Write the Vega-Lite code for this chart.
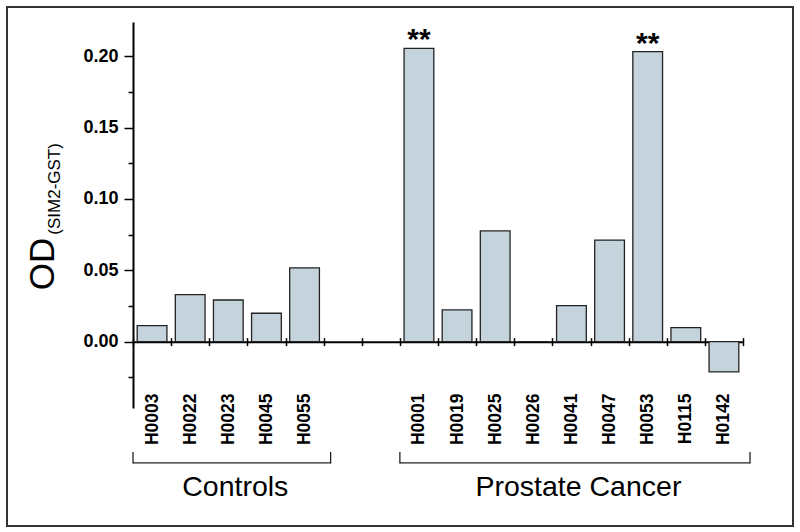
{
  "$schema": "https://vega.github.io/schema/vega-lite/v6.json",
  "width": 786,
  "height": 519,
  "autosize": {"type": "none"},
  "padding": {"left": 7, "top": 7, "right": 7, "bottom": 6},
  "background": "white",
  "config": {"font": "Liberation Sans", "view": {"stroke": "#333", "strokeWidth": 2}},
  "datasets": {
    "samples": [
      {"sample": "H0003", "group": "Controls", "od": 0.0112, "sig": ""},
      {"sample": "H0022", "group": "Controls", "od": 0.033, "sig": ""},
      {"sample": "H0023", "group": "Controls", "od": 0.0292, "sig": ""},
      {"sample": "H0045", "group": "Controls", "od": 0.0199, "sig": ""},
      {"sample": "H0055", "group": "Controls", "od": 0.0517, "sig": ""},
      {"sample": "H0001", "group": "Prostate Cancer", "od": 0.2055, "sig": "**"},
      {"sample": "H0019", "group": "Prostate Cancer", "od": 0.0222, "sig": ""},
      {"sample": "H0025", "group": "Prostate Cancer", "od": 0.0776, "sig": ""},
      {"sample": "H0026", "group": "Prostate Cancer", "od": 0.0, "sig": ""},
      {"sample": "H0041", "group": "Prostate Cancer", "od": 0.0252, "sig": ""},
      {"sample": "H0047", "group": "Prostate Cancer", "od": 0.0712, "sig": ""},
      {"sample": "H0053", "group": "Prostate Cancer", "od": 0.2032, "sig": "**"},
      {"sample": "H0115", "group": "Prostate Cancer", "od": 0.0098, "sig": ""},
      {"sample": "H0142", "group": "Prostate Cancer", "od": -0.0212, "sig": ""}
    ],
    "groups": [
      {"group": "Controls", "first": "H0003", "last": "H0055", "mid": "H0023"},
      {"group": "Prostate Cancer", "first": "H0001", "last": "H0142", "mid": "H0041"}
    ]
  },
  "resolve": {"axis": {"x": "independent", "y": "independent"}},
  "layer": [
    {
      "data": {"name": "samples"},
      "mark": {"type": "bar", "fill": "#c5d4dc", "stroke": "#222", "strokeWidth": 1.3, "width": {"band": 0.78}},
      "encoding": {
        "x": {
          "field": "sample", "type": "nominal",
          "scale": {"domain": ["H0003","H0022","H0023","H0045","H0055"," ","  ","H0001","H0019","H0025","H0026","H0041","H0047","H0053","H0115","H0142"], "range": [126, 736], "paddingInner": 0, "paddingOuter": 0},
          "axis": {"orient": "bottom", "offset": -184.36, "domain": true, "domainColor": "#000", "domainWidth": 2, "ticks": true, "tickBand": "extent", "tickSize": -4, "tickColor": "#000", "tickWidth": 1.5, "labels": false, "title": null, "grid": false}
        },
        "y": {
          "field": "od", "type": "quantitative",
          "scale": {"domain": [-0.0465, 0.224], "range": [401, 15], "nice": false, "zero": false},
          "axis": {
            "orient": "left", "offset": -126, "grid": false,
            "values": [-0.025, 0, 0.025, 0.05, 0.075, 0.1, 0.125, 0.15, 0.175, 0.2],
            "domain": true, "domainColor": "#000", "domainWidth": 2,
            "tickColor": "#000", "tickWidth": 1.5,
            "tickSize": {"condition": {"test": "indexof([-0.025, 0.025, 0.075, 0.125, 0.175], datum.value) >= 0", "value": 5}, "value": 9},
            "labelExpr": "indexof([-0.025, 0.025, 0.075, 0.125, 0.175], datum.value) >= 0 ? '' : format(datum.value, '.2f')",
            "labelFontSize": 18, "labelFontWeight": "bold", "labelColor": "#000", "labelPadding": 6,
            "title": "OD", "titleFontSize": 35, "titleFontWeight": "normal", "titleColor": "#000",
            "titleX": -80, "titleY": 256.5, "titleAngle": 270, "titleAlign": "center", "titleBaseline": "alphabetic"
          }
        }
      }
    },
    {
      "data": {"name": "samples"},
      "mark": {"type": "text", "fontSize": 30, "fontWeight": "bold", "baseline": "alphabetic", "align": "center", "dy": 1, "color": "#000"},
      "encoding": {
        "x": {
          "field": "sample", "type": "nominal",
          "scale": {"domain": ["H0003","H0022","H0023","H0045","H0055"," ","  ","H0001","H0019","H0025","H0026","H0041","H0047","H0053","H0115","H0142"], "range": [126, 736], "paddingInner": 0, "paddingOuter": 0},
          "axis": {"orient": "bottom", "offset": -184.36, "domain": false, "ticks": true, "tickBand": "extent", "tickSize": 4, "tickColor": "#000", "tickWidth": 1.5, "labelAngle": -90, "labelFontSize": 17.5, "labelFontWeight": "bold", "labelColor": "#000", "labelPadding": 47.4, "title": null, "grid": false}
        },
        "y": {
          "field": "od", "type": "quantitative",
          "scale": {"domain": [-0.0465, 0.224], "range": [401, 15], "nice": false, "zero": false},
          "axis": {"orient": "left", "offset": -126, "domain": false, "ticks": false, "labels": false, "grid": false,
            "title": "(SIM2-GST)", "titleFontSize": 17, "titleFontWeight": "normal", "titleColor": "#000",
            "titleX": -73.3, "titleY": 181.4, "titleAngle": 270, "titleAlign": "center", "titleBaseline": "alphabetic"}
        },
        "text": {"field": "sig"}
      }
    },
    {
      "data": {"name": "groups"},
      "mark": {"type": "rule", "stroke": "#222", "strokeWidth": 1.3, "x2Offset": 7},
      "encoding": {
        "x": {
          "field": "first", "type": "nominal", "axis": null, "bandPosition": 0,
          "scale": {"domain": ["H0003","H0022","H0023","H0045","H0055"," ","  ","H0001","H0019","H0025","H0026","H0041","H0047","H0053","H0115","H0142"], "range": [126, 736], "paddingInner": 0, "paddingOuter": 0}
        },
        "x2": {"field": "last", "bandPosition": 1},
        "y": {"datum": -0.085, "type": "quantitative", "axis": null, "scale": {"domain": [-0.0465, 0.224], "range": [401, 15], "nice": false, "zero": false}}
      }
    },
    {
      "data": {"name": "groups"},
      "mark": {"type": "rule", "stroke": "#222", "strokeWidth": 1.3},
      "encoding": {
        "x": {
          "field": "first", "type": "nominal", "axis": null, "bandPosition": 0,
          "scale": {"domain": ["H0003","H0022","H0023","H0045","H0055"," ","  ","H0001","H0019","H0025","H0026","H0041","H0047","H0053","H0115","H0142"], "range": [126, 736], "paddingInner": 0, "paddingOuter": 0}
        },
        "y": {"datum": -0.0773, "type": "quantitative", "axis": null, "scale": {"domain": [-0.0465, 0.224], "range": [401, 15], "nice": false, "zero": false}},
        "y2": {"datum": -0.0854}
      }
    },
    {
      "data": {"name": "groups"},
      "mark": {"type": "rule", "stroke": "#222", "strokeWidth": 1.3, "xOffset": 7},
      "encoding": {
        "x": {
          "field": "last", "type": "nominal", "axis": null, "bandPosition": 1,
          "scale": {"domain": ["H0003","H0022","H0023","H0045","H0055"," ","  ","H0001","H0019","H0025","H0026","H0041","H0047","H0053","H0115","H0142"], "range": [126, 736], "paddingInner": 0, "paddingOuter": 0}
        },
        "y": {"datum": -0.0773, "type": "quantitative", "axis": null, "scale": {"domain": [-0.0465, 0.224], "range": [401, 15], "nice": false, "zero": false}},
        "y2": {"datum": -0.0854}
      }
    },
    {
      "data": {"name": "groups"},
      "mark": {"type": "text", "fontSize": 28.5, "baseline": "alphabetic", "align": "center", "dx": 7, "color": "#000"},
      "encoding": {
        "x": {
          "field": "mid", "type": "nominal", "axis": null,
          "scale": {"domain": ["H0003","H0022","H0023","H0045","H0055"," ","  ","H0001","H0019","H0025","H0026","H0041","H0047","H0053","H0115","H0142"], "range": [126, 736], "paddingInner": 0, "paddingOuter": 0}
        },
        "y": {"datum": -0.1082, "type": "quantitative", "axis": null, "scale": {"domain": [-0.0465, 0.224], "range": [401, 15], "nice": false, "zero": false}},
        "text": {"field": "group"}
      }
    }
  ]
}
